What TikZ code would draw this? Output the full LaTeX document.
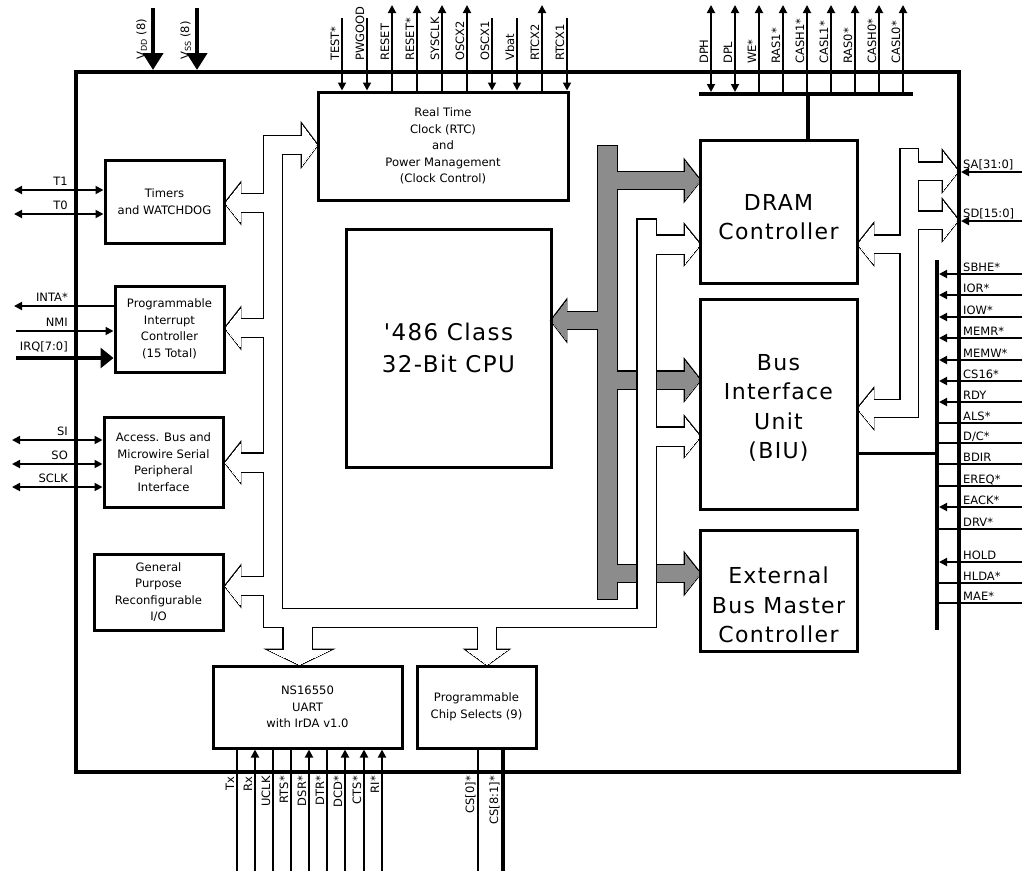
\documentclass[tikz,border=0pt]{standalone}
\usepackage{fontspec}
\setmainfont{DejaVu Sans}
\newfontfamily\bigfont{DejaVu Sans}[LetterSpace=6]
\usetikzlibrary{arrows.meta}

\newcommand\bxfont{\fontsize{11.6}{16.5}\selectfont}
\newcommand\pnfont{\fontsize{11.5}{13}\selectfont}
\newcommand\bgfont{\bigfont\fontsize{22}{29.5}\selectfont}

\tikzset{
  blk/.style={draw, line width=3pt, align=center, font=\bxfont},
  bigtxt/.style={align=center, font=\bgfont},
  pin/.style={line width=1.8pt},
  thickpin/.style={line width=4pt},
  bus/.style={line width=4pt},
  pwr/.style={line width=4.5pt, -{Triangle[length=17pt,width=20pt]}},
  uplab/.style={rotate=90, anchor=base west, font=\pnfont},
  dnlab/.style={rotate=90, anchor=base east, font=\pnfont},
  lflab/.style={anchor=base east, font=\pnfont},
  rtlab/.style={anchor=base west, font=\pnfont},
  >={Triangle[length=8pt,width=8pt]}
}

% hatched bus from the CPU: #1 colour, #2 extra width
\newcommand\cpubus[2]{%
  \draw[#1, line width=19pt+#2, line cap=rect] (607.5,155.5) -- (607.5,589.5);
  \draw[#1, line width=17pt+#2] (607.5,180.5) -- (686,180.5);
  \draw[#1, line width=17pt+#2] (607.5,320.5) -- (565,320.5);
  \draw[#1, line width=17pt+#2] (607.5,380) -- (686,380);
  \draw[#1, line width=17pt+#2] (607.5,573.5) -- (686,573.5);
  \filldraw[#1, line width=#2] (685,161.5) -- (700,180.5) -- (685,199.5) -- cycle;
  \filldraw[#1, line width=#2] (566,301.5) -- (551.5,320.5) -- (566,339.5) -- cycle;
  \filldraw[#1, line width=#2] (685,361) -- (700,380) -- (685,399) -- cycle;
  \filldraw[#1, line width=#2] (685,554.5) -- (700,573.5) -- (685,592.5) -- cycle;
}

% peripheral bus
\newcommand\periphbus[2]{%
  \draw[#1, line width=18pt+#2] (303,145) -- (273,145) -- (273,618) -- (646.5,618);
  \draw[#1, line width=18pt+#2, line cap=rect] (646.5,618) -- (646.5,228.5);
  \draw[#1, line width=18pt+#2] (273,203) -- (239,203);
  \draw[#1, line width=18pt+#2] (273,328) -- (239,328);
  \draw[#1, line width=18pt+#2] (273,462.5) -- (239,462.5);
  \draw[#1, line width=18pt+#2] (273,586) -- (239,586);
  \draw[#1, line width=28pt+#2] (297.5,618) -- (297.5,651);
  \draw[#1, line width=18pt+#2] (487,618) -- (487,651);
  \draw[#1, line width=18pt+#2] (646.5,244.5) -- (686,244.5);
  \draw[#1, line width=18pt+#2] (646.5,436.5) -- (686,436.5);
  \filldraw[#1, line width=#2] (302,125) -- (317,145) -- (302,165) -- cycle;
  \filldraw[#1, line width=#2] (240,184.5) -- (225.5,203) -- (240,221.5) -- cycle;
  \filldraw[#1, line width=#2] (240,309.5) -- (225.5,328) -- (240,346.5) -- cycle;
  \filldraw[#1, line width=#2] (240,444) -- (225.5,462.5) -- (240,481) -- cycle;
  \filldraw[#1, line width=#2] (240,567.5) -- (225.5,586) -- (240,604.5) -- cycle;
  \filldraw[#1, line width=#2] (269.5,650) -- (299.5,664.5) -- (329.5,650) -- cycle;
  \filldraw[#1, line width=#2] (467,650) -- (487,664.5) -- (507,650) -- cycle;
  \filldraw[#1, line width=#2] (685,226) -- (700,244.5) -- (685,263) -- cycle;
  \filldraw[#1, line width=#2] (685,418) -- (700,436.5) -- (685,455) -- cycle;
}

% external address/data bus
\newcommand\membus[2]{%
  \draw[#1, line width=17pt+#2, line cap=rect] (909,157.5) -- (909,408.5);
  \draw[#1, line width=17pt+#2] (909,171) -- (944,171);
  \draw[#1, line width=17pt+#2] (909,220) -- (944,220);
  \draw[#1, line width=17pt+#2] (909,244) -- (872,244);
  \draw[#1, line width=17pt+#2] (909,408.5) -- (872,408.5);
  \filldraw[#1, line width=#2] (943,152) -- (958,171) -- (943,190) -- cycle;
  \filldraw[#1, line width=#2] (943,201) -- (958,220) -- (943,239) -- cycle;
  \filldraw[#1, line width=#2] (873,225) -- (858,244) -- (873,263) -- cycle;
  \filldraw[#1, line width=#2] (873,390) -- (858,408.5) -- (873,427) -- cycle;
}

\begin{document}
\begin{tikzpicture}[x=1pt, y=-1pt, every node/.style={inner sep=0pt}]
  \path[fill=white, use as bounding box] (0,0) rectangle (1024,871);

  % buses, outline first and inside after
  \cpubus{black}{2.8pt}
  \cpubus{black!45}{0pt}
  \periphbus{black}{2.8pt}
  \periphbus{white}{0pt}
  \membus{black}{2.8pt}
  \membus{white}{0pt}

  % blocks
  \node[draw, line width=4pt, minimum width=883pt, minimum height=700pt] (chip) at (517.5,422) {};
  \node[blk, minimum width=250pt, minimum height=108pt] (rtc) at (443,146) {Real Time\\Clock (RTC)\\and\\Power Management\\(Clock Control)};
  \node[blk, minimum width=119pt, minimum height=83pt] (tmr) at (164.5,201.5) {Timers\\and WATCHDOG};
  \node[blk, minimum width=109pt, minimum height=86pt] (pic) at (169.5,329) {Programmable\\Interrupt\\Controller\\(15 Total)};
  \node[blk, minimum width=119pt, minimum height=90pt] (acc) at (163.5,462) {Access. Bus and\\Microwire Serial\\Peripheral\\Interface};
  \node[blk, minimum width=129pt, minimum height=76pt] (gpio) at (158.5,592) {General\\Purpose\\Reconfigurable\\I/O};
  \node[blk, minimum width=205pt, minimum height=238pt, font=\bigfont\fontsize{23}{32}\selectfont] (cpu) at (448.5,348) {'486 Class\\32-Bit CPU};
  \node[blk, minimum width=157pt, minimum height=143pt] (dram) at (778.5,211.5) {};
  \node[bigtxt] (dram-t) at (778.5,217) {DRAM\\Controller};
  \node[blk, minimum width=157pt, minimum height=210pt] (biu) at (778.5,404) {};
  \node[bigtxt] (biu-t) at (778.5,408) {Bus\\Interface\\Unit\\(BIU)};
  \node[blk, minimum width=157pt, minimum height=121pt] (ebmc) at (778.5,590.5) {};
  \node[bigtxt] (ebmc-t) at (778.5,605) {External\\Bus Master\\Controller};
  \node[blk, minimum width=189pt, minimum height=82pt] (uart) at (307.5,707) {NS16550\\UART\\with IrDA v1.0};
  \node[blk, minimum width=119pt, minimum height=82pt] (csel) at (476.5,707) {Programmable\\Chip Selects (9)};

  % power
  \coordinate (vdd) at (153,8);
  \coordinate (vss) at (197,8);
  \draw[pwr] (vdd) -- (vdd |- chip.north);
  \draw[pwr] (vss) -- (vss |- chip.north);
  \node[uplab] (l-vdd) at (145,60) {V\textsubscript{DD} (8)};
  \node[uplab] (l-vss) at (189,60) {V\textsubscript{SS} (8)};

  % RTC pins
  \foreach \x/\t in {342/TEST*, 367/PWGOOD, 492/OSCX1, 517/Vbat, 567/RTCX1} {
    \coordinate (ri\x) at (\x,18);
    \draw[pin, ->] (ri\x) -- (ri\x |- rtc.north);
    \node[uplab] (lri\x) at (\x-3,61) {\t};
  }
  \foreach \x/\t in {392/RESET, 417/RESET*, 442/SYSCLK, 467/OSCX2, 542/RTCX2} {
    \coordinate (ro\x) at (\x,5);
    \draw[pin, ->] (ro\x |- rtc.north) -- (ro\x);
    \node[uplab] (lro\x) at (\x-3,61) {\t};
  }

  % DRAM pins
  \coordinate (dbl) at (699,94);
  \coordinate (dbr) at (913,94);
  \coordinate (dtap) at (808,94);
  \draw[bus] (dbl) -- (dbr);
  \draw[bus] (dtap) -- (dtap |- dram.north);
  \foreach \x/\t in {711/DPH, 735/DPL} {
    \coordinate (dp\x) at (\x,5);
    \draw[pin, <->, shorten <=2pt] (dp\x |- dbl) -- (dp\x);
    \node[uplab] (ldp\x) at (\x-3,64) {\t};
  }
  \foreach \x/\t in {759/WE*, 783/RAS1*, 807/CASH1*, 831/CASL1*, 855/RAS0*, 879/CASH0*, 903/CASL0*} {
    \coordinate (dp\x) at (\x,5);
    \draw[pin, ->] (dp\x |- dbl) -- (dp\x);
    \node[uplab] (ldp\x) at (\x-3,64) {\t};
  }

  % left pins
  \coordinate (t1) at (14,190);
  \coordinate (t0) at (14,214);
  \coordinate (inta) at (14,306);
  \coordinate (nmi) at (16,331);
  \coordinate (irq) at (16,358);
  \coordinate (si) at (12,440);
  \coordinate (so) at (12,464);
  \coordinate (sclk) at (12,487);
  \draw[pin, <->] (t1) -- (t1 -| tmr.west);
  \draw[pin, <->] (t0) -- (t0 -| tmr.west);
  \draw[pin, ->] (inta -| pic.west) -- (inta);
  \draw[pin, ->] (nmi) -- (nmi -| pic.west);
  \draw[thickpin, -{Triangle[length=13pt,width=20pt]}] (irq) -- (irq -| pic.west);
  \draw[pin, <->] (si) -- (si -| acc.west);
  \draw[pin, <->] (so) -- (so -| acc.west);
  \draw[pin, <->] (sclk) -- (sclk -| acc.west);
  \node[lflab] (l-t1) at (68,185) {T1};
  \node[lflab] (l-t0) at (68,209) {T0};
  \node[lflab] (l-inta) at (68,301) {INTA*};
  \node[lflab] (l-nmi) at (68,326) {NMI};
  \node[lflab] (l-irq) at (68,350) {IRQ[7:0]};
  \node[lflab] (l-si) at (68,435) {SI};
  \node[lflab] (l-so) at (68,459) {SO};
  \node[lflab] (l-sclk) at (68,482) {SCLK};

  % right pins
  \coordinate (sbt) at (937,260);
  \coordinate (sbb) at (937,630);
  \coordinate (biuo) at (937,453);
  \draw[bus] (sbt) -- (sbb);
  \draw[line width=3pt] (biuo -| biu.east) -- (biuo);
  \coordinate (sa) at (1022,172);
  \coordinate (sd) at (1022,221);
  \draw[pin, ->] (sa) -- (sa -| chip.east);
  \draw[pin, ->] (sd) -- (sd -| chip.east);
  \node[rtlab] (l-sa) at (963,168) {SA[31:0]};
  \node[rtlab] (l-sd) at (963,217) {SD[15:0]};
  \foreach \y/\t in {274/SBHE*, 295/IOR*, 317/IOW*, 338/MEMR*, 360/MEMW*, 381/CS16*, 402/RDY, 507/EACK*, 562/HOLD} {
    \coordinate (si\y) at (1022,\y);
    \draw[pin, ->, shorten >=2pt] (si\y) -- (si\y -| sbt);
    \node[rtlab] (lsi\y) at (963,\y-3) {\t};
  }
  \foreach \y/\t in {423/ALS*, 443/{D/C*}, 464/BDIR, 486/EREQ*, 529/DRV*, 583/HLDA*, 603/MAE*} {
    \coordinate (so\y) at (1022,\y);
    \draw[pin] (so\y) -- (so\y -| sbt);
    \node[rtlab] (lso\y) at (963,\y-3) {\t};
  }

  % UART and chip select pins
  \foreach \x/\t in {255/Rx, 309/DSR*, 345/DCD*, 364/CTS*, 382/RI*} {
    \coordinate (ui\x) at (\x,871);
    \draw[pin, ->] (ui\x) -- (ui\x |- uart.south);
    \node[dnlab] (lui\x) at (\x-3,776) {\t};
  }
  \foreach \x/\t in {237/Tx, 273/UCLK, 291/RTS*, 327/DTR*} {
    \coordinate (uo\x) at (\x,871);
    \draw[pin] (uo\x |- uart.south) -- (uo\x);
    \node[dnlab] (luo\x) at (\x-3,776) {\t};
  }
  \coordinate (cs0) at (478,871);
  \coordinate (cs81) at (503,871);
  \draw[pin] (cs0 |- csel.south) -- (cs0);
  \draw[thickpin] (cs81 |- csel.south) -- (cs81);
  \node[dnlab] (l-cs0) at (474,776) {CS[0]*};
  \node[dnlab] (l-cs81) at (498,776) {CS[8:1]*};
\end{tikzpicture}
\end{document}
